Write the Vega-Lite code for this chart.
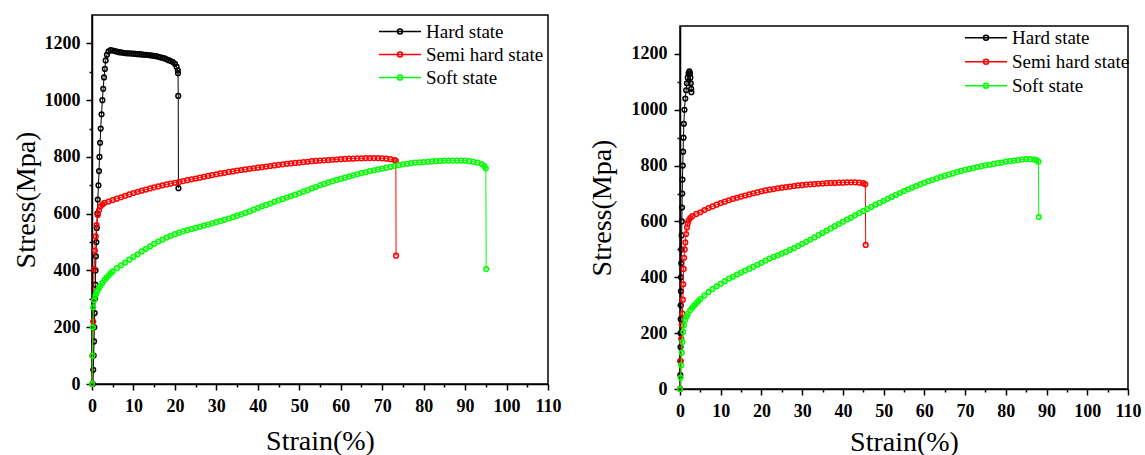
{
"$schema": "https://vega.github.io/schema/vega-lite/v6.json",
"padding": {"left": 11, "top": 14, "right": 0, "bottom": 0},
"background": "white",
"config": {
  "font": "Liberation Serif",
  "view": {"stroke": "black", "strokeWidth": 1.5},
  "axis": {"domainColor": "black", "domainWidth": 1.5, "tickColor": "black", "tickWidth": 1.5, "grid": false,
    "labelFont": "Liberation Serif", "labelFontWeight": "bold", "labelFontSize": 18, "labelColor": "black",
    "titleFont": "Liberation Serif", "titleFontWeight": "normal", "titleFontSize": 28, "titleColor": "black",
    "labelOverlap": false, "labelFlush": false},
  "legend": {"padding": 0}
},
"datasets": {
  "aHard": [{"x":0.2,"y":0},{"x":0.3,"y":50},{"x":0.4,"y":100},{"x":0.5,"y":150},{"x":0.55,"y":200},{"x":0.65,"y":250},{"x":0.7,"y":300},{"x":0.8,"y":350},{"x":0.85,"y":400},{"x":0.95,"y":450},{"x":1.05,"y":500},{"x":1.15,"y":550},{"x":1.3,"y":600},{"x":1.4,"y":650},{"x":1.55,"y":700},{"x":1.7,"y":750},{"x":1.8,"y":800},{"x":1.95,"y":850},{"x":2.1,"y":900},{"x":2.3,"y":950},{"x":2.5,"y":1000},{"x":2.7,"y":1040},{"x":2.9,"y":1080},{"x":3.1,"y":1110},{"x":3.3,"y":1140},{"x":3.6,"y":1160},{"x":4.0,"y":1172},{"x":4.5,"y":1176},{"x":5,"y":1175},{"x":5.5,"y":1173},{"x":6,"y":1171},{"x":6.5,"y":1169},{"x":7,"y":1168},{"x":7.5,"y":1167},{"x":8,"y":1166},{"x":8.5,"y":1165},{"x":9,"y":1165},{"x":9.5,"y":1164},{"x":10,"y":1164},{"x":10.5,"y":1163},{"x":11,"y":1162},{"x":11.5,"y":1162},{"x":12,"y":1161},{"x":12.5,"y":1160},{"x":13,"y":1160},{"x":13.5,"y":1159},{"x":14,"y":1158},{"x":14.5,"y":1157},{"x":15,"y":1156},{"x":15.5,"y":1155},{"x":16,"y":1153},{"x":16.5,"y":1151},{"x":17,"y":1149},{"x":17.5,"y":1147},{"x":18,"y":1144},{"x":18.5,"y":1141},{"x":19,"y":1138},{"x":19.5,"y":1134},{"x":20,"y":1128},{"x":20.4,"y":1118},{"x":20.7,"y":1105},{"x":20.75,"y":1095},{"x":20.8,"y":1015},{"x":20.85,"y":690}],
  "aSemi": [{"x":0,"y":0},{"x":0.15,"y":100},{"x":0.3,"y":220},{"x":0.5,"y":405},{"x":0.7,"y":470},{"x":0.9,"y":520},{"x":1.1,"y":560},{"x":1.4,"y":595},{"x":1.7,"y":612},{"x":2,"y":625},{"x":2.5,"y":632},{"x":3,"y":638},{"x":4,"y":643},{"x":5,"y":648},{"x":6,"y":653},{"x":7,"y":658},{"x":8,"y":663},{"x":9,"y":668},{"x":10,"y":673},{"x":11,"y":677},{"x":12,"y":681},{"x":13,"y":685},{"x":14,"y":689},{"x":15,"y":693},{"x":16,"y":696},{"x":17,"y":700},{"x":18,"y":703},{"x":19,"y":706},{"x":20,"y":709},{"x":21,"y":712},{"x":22,"y":715},{"x":23,"y":718},{"x":24,"y":721},{"x":25,"y":724},{"x":26,"y":727},{"x":27,"y":730},{"x":28,"y":733},{"x":29,"y":736},{"x":30,"y":739},{"x":31,"y":742},{"x":32,"y":744},{"x":33,"y":747},{"x":34,"y":749},{"x":35,"y":752},{"x":36,"y":754},{"x":37,"y":756},{"x":38,"y":758},{"x":39,"y":760},{"x":40,"y":762},{"x":41,"y":764},{"x":42,"y":766},{"x":43,"y":768},{"x":44,"y":770},{"x":45,"y":772},{"x":46,"y":774},{"x":47,"y":776},{"x":48,"y":777},{"x":49,"y":779},{"x":50,"y":780},{"x":51,"y":782},{"x":52,"y":783},{"x":53,"y":785},{"x":54,"y":786},{"x":55,"y":787},{"x":56,"y":788},{"x":57,"y":789},{"x":58,"y":790},{"x":59,"y":791},{"x":60,"y":792},{"x":61,"y":793},{"x":62,"y":794},{"x":63,"y":794},{"x":64,"y":795},{"x":65,"y":795},{"x":66,"y":796},{"x":67,"y":796},{"x":68,"y":796},{"x":69,"y":796},{"x":70,"y":795},{"x":71,"y":794},{"x":72,"y":792},{"x":73,"y":789},{"x":73.3,"y":786},{"x":73.35,"y":452}],
  "aSoft": [{"x":0,"y":0},{"x":0.1,"y":100},{"x":0.2,"y":200},{"x":0.3,"y":270},{"x":0.5,"y":295},{"x":0.8,"y":310},{"x":1.0,"y":318},{"x":1.3,"y":327},{"x":1.7,"y":338},{"x":2,"y":346},{"x":2.5,"y":356},{"x":3,"y":366},{"x":3.5,"y":374},{"x":4,"y":382},{"x":4.5,"y":390},{"x":5,"y":397},{"x":6,"y":408},{"x":7,"y":418},{"x":8,"y":428},{"x":9,"y":438},{"x":10,"y":448},{"x":11,"y":457},{"x":12,"y":467},{"x":13,"y":476},{"x":14,"y":485},{"x":15,"y":494},{"x":16,"y":502},{"x":17,"y":509},{"x":18,"y":516},{"x":19,"y":522},{"x":20,"y":528},{"x":21,"y":533},{"x":22,"y":538},{"x":23,"y":542},{"x":24,"y":546},{"x":25,"y":550},{"x":26,"y":554},{"x":27,"y":558},{"x":28,"y":562},{"x":29,"y":566},{"x":30,"y":570},{"x":31,"y":574},{"x":32,"y":579},{"x":33,"y":583},{"x":34,"y":588},{"x":35,"y":593},{"x":36,"y":598},{"x":37,"y":603},{"x":38,"y":608},{"x":39,"y":614},{"x":40,"y":620},{"x":41,"y":626},{"x":42,"y":631},{"x":43,"y":636},{"x":44,"y":642},{"x":45,"y":647},{"x":46,"y":652},{"x":47,"y":657},{"x":48,"y":662},{"x":49,"y":667},{"x":50,"y":672},{"x":51,"y":678},{"x":52,"y":683},{"x":53,"y":689},{"x":54,"y":694},{"x":55,"y":700},{"x":56,"y":705},{"x":57,"y":710},{"x":58,"y":714},{"x":59,"y":719},{"x":60,"y":723},{"x":61,"y":727},{"x":62,"y":731},{"x":63,"y":735},{"x":64,"y":739},{"x":65,"y":743},{"x":66,"y":746},{"x":67,"y":750},{"x":68,"y":753},{"x":69,"y":756},{"x":70,"y":759},{"x":71,"y":762},{"x":72,"y":765},{"x":73,"y":768},{"x":74,"y":771},{"x":75,"y":774},{"x":76,"y":776},{"x":77,"y":778},{"x":78,"y":780},{"x":79,"y":781},{"x":80,"y":782},{"x":81,"y":783},{"x":82,"y":784},{"x":83,"y":785},{"x":84,"y":786},{"x":85,"y":787},{"x":86,"y":787},{"x":87,"y":787},{"x":88,"y":787},{"x":89,"y":787},{"x":90,"y":787},{"x":91,"y":785},{"x":92,"y":783},{"x":93,"y":780},{"x":94,"y":775},{"x":94.6,"y":768},{"x":95,"y":760},{"x":95.1,"y":405}],
  "bHard": [{"x":0.05,"y":0},{"x":0.08,"y":50},{"x":0.1,"y":100},{"x":0.12,"y":150},{"x":0.15,"y":200},{"x":0.17,"y":250},{"x":0.2,"y":300},{"x":0.22,"y":350},{"x":0.25,"y":400},{"x":0.3,"y":450},{"x":0.35,"y":500},{"x":0.4,"y":550},{"x":0.45,"y":600},{"x":0.5,"y":650},{"x":0.55,"y":700},{"x":0.6,"y":750},{"x":0.68,"y":800},{"x":0.76,"y":850},{"x":0.85,"y":900},{"x":0.95,"y":950},{"x":1.1,"y":1000},{"x":1.3,"y":1040},{"x":1.5,"y":1070},{"x":1.7,"y":1095},{"x":1.9,"y":1115},{"x":2.1,"y":1130},{"x":2.3,"y":1138},{"x":2.45,"y":1130},{"x":2.55,"y":1115},{"x":2.65,"y":1095},{"x":2.75,"y":1075},{"x":2.8,"y":1063}],
  "bSemi": [{"x":0,"y":0},{"x":0.15,"y":100},{"x":0.3,"y":180},{"x":0.45,"y":230},{"x":0.6,"y":270},{"x":0.7,"y":320},{"x":0.8,"y":375},{"x":0.9,"y":430},{"x":1.0,"y":470},{"x":1.15,"y":500},{"x":1.3,"y":525},{"x":1.5,"y":555},{"x":1.7,"y":578},{"x":1.9,"y":593},{"x":2.1,"y":603},{"x":2.5,"y":612},{"x":3,"y":619},{"x":4,"y":627},{"x":5,"y":633},{"x":6,"y":641},{"x":7,"y":648},{"x":8,"y":654},{"x":9,"y":660},{"x":10,"y":666},{"x":11,"y":671},{"x":12,"y":676},{"x":13,"y":681},{"x":14,"y":685},{"x":15,"y":689},{"x":16,"y":693},{"x":17,"y":697},{"x":18,"y":701},{"x":19,"y":704},{"x":20,"y":708},{"x":21,"y":711},{"x":22,"y":714},{"x":23,"y":716},{"x":24,"y":719},{"x":25,"y":721},{"x":26,"y":723},{"x":27,"y":725},{"x":28,"y":727},{"x":29,"y":729},{"x":30,"y":730},{"x":31,"y":732},{"x":32,"y":733},{"x":33,"y":734},{"x":34,"y":735},{"x":35,"y":736},{"x":36,"y":737},{"x":37,"y":738},{"x":38,"y":738},{"x":39,"y":739},{"x":40,"y":739},{"x":41,"y":740},{"x":42,"y":740},{"x":43,"y":740},{"x":44,"y":739},{"x":45,"y":737},{"x":45.5,"y":733},{"x":45.6,"y":516}],
  "bSoft": [{"x":0,"y":0},{"x":0.15,"y":40},{"x":0.3,"y":85},{"x":0.45,"y":130},{"x":0.6,"y":168},{"x":0.8,"y":205},{"x":1.0,"y":228},{"x":1.3,"y":248},{"x":1.6,"y":260},{"x":1.9,"y":269},{"x":2.5,"y":282},{"x":3,"y":291},{"x":3.5,"y":299},{"x":4,"y":307},{"x":4.5,"y":315},{"x":5,"y":322},{"x":6,"y":335},{"x":7,"y":347},{"x":8,"y":358},{"x":9,"y":368},{"x":10,"y":377},{"x":11,"y":386},{"x":12,"y":395},{"x":13,"y":402},{"x":14,"y":410},{"x":15,"y":417},{"x":16,"y":424},{"x":17,"y":431},{"x":18,"y":438},{"x":19,"y":445},{"x":20,"y":452},{"x":21,"y":460},{"x":22,"y":467},{"x":23,"y":473},{"x":24,"y":479},{"x":25,"y":485},{"x":26,"y":491},{"x":27,"y":498},{"x":28,"y":505},{"x":29,"y":512},{"x":30,"y":520},{"x":31,"y":527},{"x":32,"y":535},{"x":33,"y":543},{"x":34,"y":551},{"x":35,"y":559},{"x":36,"y":567},{"x":37,"y":575},{"x":38,"y":583},{"x":39,"y":591},{"x":40,"y":599},{"x":41,"y":607},{"x":42,"y":614},{"x":43,"y":622},{"x":44,"y":630},{"x":45,"y":637},{"x":46,"y":645},{"x":47,"y":652},{"x":48,"y":660},{"x":49,"y":667},{"x":50,"y":674},{"x":51,"y":681},{"x":52,"y":688},{"x":53,"y":695},{"x":54,"y":702},{"x":55,"y":709},{"x":56,"y":715},{"x":57,"y":721},{"x":58,"y":727},{"x":59,"y":733},{"x":60,"y":739},{"x":61,"y":744},{"x":62,"y":749},{"x":63,"y":754},{"x":64,"y":759},{"x":65,"y":764},{"x":66,"y":768},{"x":67,"y":772},{"x":68,"y":777},{"x":69,"y":781},{"x":70,"y":785},{"x":71,"y":788},{"x":72,"y":791},{"x":73,"y":795},{"x":74,"y":798},{"x":75,"y":801},{"x":76,"y":803},{"x":77,"y":806},{"x":78,"y":809},{"x":79,"y":811},{"x":80,"y":814},{"x":81,"y":816},{"x":82,"y":818},{"x":83,"y":820},{"x":84,"y":822},{"x":85,"y":823},{"x":86,"y":823},{"x":87,"y":822},{"x":87.5,"y":820},{"x":88,"y":814},{"x":88.1,"y":616}],
  "labelA": [{"label": "(a)"}],
  "labelB": [{"label": "(b)"}],
  "spacer": [{"label": ""}]
},
"spacing": 25,
"resolve": {"scale": {"color": "independent"}, "legend": {"color": "independent"}},
"hconcat": [
  {
    "width": 456, "height": 369,
    "encoding": {
      "x": {"field": "x", "type": "quantitative", "scale": {"domain": [0, 110], "nice": false, "zero": false},
        "axis": {"title": "Strain(%)", "values": [0,5,10,15,20,25,30,35,40,45,50,55,60,65,70,75,80,85,90,95,100,105,110],
          "format": "d", "labelFontWeight": "bold",
          "labelExpr": "datum.value % 10 === 0 ? datum.label : ''",
          "tickSize": {"condition": {"test": "datum.value % 10 === 0", "value": 6}, "value": 3},
          "labelPadding": 7, "titlePadding": 12}},
      "y": {"field": "y", "type": "quantitative", "scale": {"domain": [0, 1300], "nice": false, "zero": false},
        "axis": {"title": "Stress(Mpa)", "values": [0,100,200,300,400,500,600,700,800,900,1000,1100,1200],
          "format": "d", "labelFontWeight": "bold",
          "labelExpr": "datum.value % 200 === 0 ? datum.label : ''",
          "tickSize": {"condition": {"test": "datum.value % 200 === 0", "value": 6}, "value": 3},
          "labelPadding": 6, "titlePadding": 4}}
    },
    "layer": [
      {"data": {"name": "aHard"}, "mark": {"type": "line", "strokeWidth": 1, "point": {"filled": false, "size": 22, "strokeWidth": 1.5}},
       "encoding": {"color": {"datum": "Hard state", "type": "nominal",
         "scale": {"domain": ["Hard state", "Semi hard state", "Soft state"], "range": ["#000000", "#ff0000", "#00ff00"]},
         "legend": {"orient": "none", "legendX": 286, "legendY": 5, "title": null,
           "symbolType": "M-1,0H1M0.12,0A0.12,0.12,0,1,1,-0.12,0A0.12,0.12,0,1,1,0.12,0",
           "symbolSize": 1764, "symbolStrokeWidth": 1.5, "labelFontSize": 19, "labelFont": "Liberation Serif",
           "labelFontWeight": "normal", "labelColor": "black", "labelOffset": 4, "clipHeight": 23, "rowPadding": 0}}}},
      {"data": {"name": "aSemi"}, "mark": {"type": "line", "strokeWidth": 1, "point": {"filled": false, "size": 22, "strokeWidth": 1.5}},
       "encoding": {"color": {"datum": "Semi hard state", "type": "nominal"}}},
      {"data": {"name": "aSoft"}, "mark": {"type": "line", "strokeWidth": 1, "point": {"filled": false, "size": 22, "strokeWidth": 1.5}},
       "encoding": {"color": {"datum": "Soft state", "type": "nominal"}}},
      {"data": {"name": "labelA"}, "mark": {"type": "text", "font": "Liberation Serif", "fontWeight": "bold", "fontSize": 22, "align": "left", "baseline": "middle", "color": "black"},
       "encoding": {"x": {"datum": 1.5, "type": "quantitative"}, "y": {"datum": 1230, "type": "quantitative"}, "text": {"field": "label"}}}
    ]
  },
  {
    "spacing": 9,
    "vconcat": [
      {"width": 10, "height": 1, "view": {"stroke": null}, "data": {"name": "spacer"},
       "mark": {"type": "point", "opacity": 0, "size": 1}, "encoding": {}},
      {
        "width": 448, "height": 363,
        "encoding": {
          "x": {"field": "x", "type": "quantitative", "scale": {"domain": [0, 110], "nice": false, "zero": false},
            "axis": {"title": "Strain(%)", "values": [0,5,10,15,20,25,30,35,40,45,50,55,60,65,70,75,80,85,90,95,100,105,110],
              "format": "d", "labelFontWeight": "bold",
              "labelExpr": "datum.value % 10 === 0 ? datum.label : ''",
              "tickSize": {"condition": {"test": "datum.value % 10 === 0", "value": 6}, "value": 3},
              "labelPadding": 7, "titlePadding": 8}},
          "y": {"field": "y", "type": "quantitative", "scale": {"domain": [0, 1300], "nice": false, "zero": false},
            "axis": {"title": "Stress(Mpa)", "values": [0,100,200,300,400,500,600,700,800,900,1000,1100,1200],
              "format": "d", "labelFontWeight": "bold",
              "labelExpr": "datum.value % 200 === 0 ? datum.label : ''",
              "tickSize": {"condition": {"test": "datum.value % 200 === 0", "value": 6}, "value": 3},
              "labelPadding": 7, "titlePadding": 15}}
        },
        "layer": [
          {"data": {"name": "bHard"}, "mark": {"type": "line", "strokeWidth": 1, "point": {"filled": false, "size": 22, "strokeWidth": 1.5}},
           "encoding": {"color": {"datum": "Hard state", "type": "nominal",
             "scale": {"domain": ["Hard state", "Semi hard state", "Soft state"], "range": ["#000000", "#ff0000", "#00ff00"]},
             "legend": {"orient": "none", "legendX": 284, "legendY": 11, "title": null,
               "symbolType": "M-1,0H1M0.12,0A0.12,0.12,0,1,1,-0.12,0A0.12,0.12,0,1,1,0.12,0",
               "symbolSize": 1764, "symbolStrokeWidth": 1.5, "labelFontSize": 19, "labelFont": "Liberation Serif",
               "labelFontWeight": "normal", "labelColor": "black", "labelOffset": 4, "clipHeight": 23.5, "rowPadding": 0}}}},
          {"data": {"name": "bSemi"}, "mark": {"type": "line", "strokeWidth": 1, "point": {"filled": false, "size": 22, "strokeWidth": 1.5}},
           "encoding": {"color": {"datum": "Semi hard state", "type": "nominal"}}},
          {"data": {"name": "bSoft"}, "mark": {"type": "line", "strokeWidth": 1, "point": {"filled": false, "size": 22, "strokeWidth": 1.5}},
           "encoding": {"color": {"datum": "Soft state", "type": "nominal"}}},
          {"data": {"name": "labelB"}, "mark": {"type": "text", "font": "Liberation Serif", "fontWeight": "bold", "fontSize": 22, "align": "left", "baseline": "middle", "color": "black"},
           "encoding": {"x": {"datum": 0.6, "type": "quantitative"}, "y": {"datum": 1232, "type": "quantitative"}, "text": {"field": "label"}}}
        ]
      }
    ]
  }
]
}
